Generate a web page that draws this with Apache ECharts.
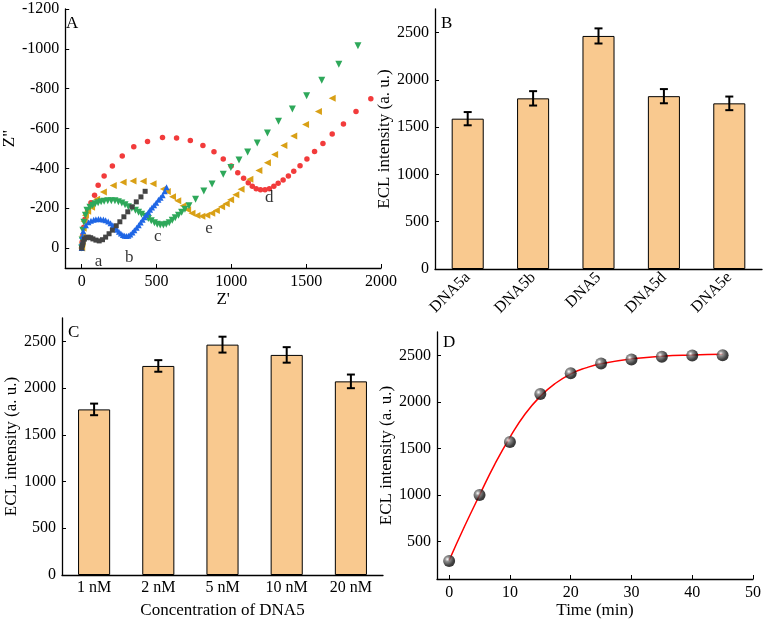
<!DOCTYPE html>
<html>
<head>
<meta charset="utf-8">
<script src="https://cdn.jsdelivr.net/npm/echarts@6/dist/echarts.min.js"></script>
<style>
  html, body { margin: 0; padding: 0; background: #fff; }
  #chart { width: 764px; height: 620px; }
</style>
</head>
<body>
<div id="chart"></div>
<script>
// Panel A - Nyquist plots, points are [Z', Z'']
const nyqA = [[0,0],[5,-15],[10,-30],[18,-45],[30,-52],[44,-55],[60,-52],[75,-46],[95,-40],[117,-36],[139,-42],[160,-55],[183,-72],[205,-90],[231,-112],[255,-132],[282,-157],[308,-182],[337,-207],[365,-232],[396,-257],[424,-285]]
const nyqB = [[0,0],[2,-30],[5,-60],[10,-85],[28,-115],[45,-130],[62,-137],[80,-142],[95,-145],[112,-146],[127,-145],[145,-143],[160,-140],[177,-133],[193,-125],[208,-114],[222,-103],[236,-92],[249,-82],[262,-73],[275,-66],[287,-62],[299,-60],[312,-62],[325,-68],[339,-78],[352,-90],[367,-102],[381,-115],[394,-128],[407,-142],[420,-155],[432,-167],[445,-180],[457,-192],[470,-204],[484,-215],[498,-228],[513,-242],[527,-253],[541,-265],[555,-285],[567,-305]]
const nyqC = [[0,0],[3,-40],[8,-90],[15,-130],[25,-165],[35,-190],[55,-205],[73,-215],[90,-222],[110,-228],[130,-232],[150,-235],[174,-237],[198,-238],[222,-237],[245,-232],[268,-226],[290,-218],[312,-208],[335,-200],[359,-190],[380,-180],[400,-170],[424,-160],[445,-148],[465,-137],[486,-127],[505,-120],[525,-116],[546,-116],[565,-120],[585,-127],[605,-140],[625,-152],[647,-165],[668,-180],[690,-195],[717,-212],[761,-245],[816,-287],[871,-322],[946,-370],[997,-405],[1051,-442],[1109,-482],[1173,-528],[1241,-578],[1315,-637],[1408,-698],[1503,-765],[1604,-842],[1718,-923],[1846,-1015]]
const nyqD = [[0,0],[3,-30],[8,-65],[14,-105],[22,-145],[40,-187],[62,-228],[86,-265],[110,-315],[150,-362],[205,-412],[271,-462],[348,-508],[440,-535],[540,-555],[634,-553],[726,-540],[810,-515],[884,-483],[946,-447],[999,-412],[1043,-378],[1082,-350],[1113,-328],[1140,-310],[1166,-298],[1195,-293],[1225,-293],[1254,-298],[1284,-310],[1313,-325],[1346,-342],[1381,-362],[1417,-385],[1459,-413],[1505,-447],[1556,-485],[1612,-525],[1674,-573],[1749,-623],[1833,-685],[1932,-750]]
const nyqE = [[0,0],[3,-25],[6,-60],[10,-100],[16,-135],[25,-165],[40,-185],[66,-205],[100,-245],[145,-282],[211,-314],[277,-330],[343,-337],[411,-335],[477,-323],[546,-297],[572,-284],[607,-258],[642,-238],[678,-212],[708,-192],[737,-175],[770,-163],[803,-160],[836,-165],[869,-175],[900,-188],[935,-207],[966,-223],[995,-242],[1030,-268],[1065,-295],[1124,-345],[1184,-390],[1241,-428],[1289,-470],[1351,-515],[1417,-563],[1496,-620],[1582,-685],[1674,-752]]
const curveTags = [['a',112,70],['b',317,45],['c',508,-60],['e',851,-100],['d',1254,-255]]
const ticksAx = [0,500,1000,1500,2000]
const ticksAy = [-1200,-1000,-800,-600,-400,-200,0]

// Panel B
const catsB = ['DNA5a','DNA5b','DNA5','DNA5d','DNA5e']
const valsB = [1590,1805,2465,1828,1752]
const errB = [70,76,80,75,72]

// Panel C
const catsC = ['1 nM','2 nM','5 nM','10 nM','20 nM']
const valsC = [1772,2237,2465,2355,2072]
const errC = [62,62,85,83,73]
const ticksBar = [0,500,1000,1500,2000,2500]

// Panel D
const timeD = [0,5,10,15,20,25,30,35,40,45]
const eclD = [293,1001,1570,2085,2307,2411,2455,2485,2497,2500]
const fitT = [0,2.5,5,7.5,10,12.5,15,17.5,20,22.5,25,30,35,40,45]
const fitV = [300,660,1000,1330,1620,1870,2060,2200,2300,2365,2410,2462,2490,2503,2510]
const ticksDx = [0,10,20,30,40,50]
const ticksDy = [500,1000,1500,2000,2500]

const FONT = 'Liberation Serif'
const LBL = 16
const NAME = 17
const chart = echarts.init(document.getElementById('chart'))

function axis (type, grid, labels, extra) {
  return Object.assign({
    type: type,
    gridIndex: grid,
    axisLine: { show: true, onZero: false, lineStyle: { color: '#000', width: 1.3 } },
    axisTick: { show: true, inside: true, length: 4, customValues: labels, lineStyle: { color: '#000' } },
    axisLabel: { customValues: labels, color: '#000', fontFamily: FONT, fontSize: LBL, margin: 6, formatter: v => String(v) },
    splitLine: { show: false },
    nameLocation: 'middle',
    nameTextStyle: { color: '#000', fontFamily: FONT, fontSize: NAME }
  }, extra)
}

function catAxis (grid, cats, extra) {
  return Object.assign({
    type: 'category',
    gridIndex: grid,
    data: cats,
    axisLine: { show: true, lineStyle: { color: '#000', width: 1.3 } },
    axisTick: { show: false },
    axisLabel: { color: '#000', fontFamily: FONT, fontSize: LBL, margin: 5 },
    nameLocation: 'middle',
    nameTextStyle: { color: '#000', fontFamily: FONT, fontSize: NAME }
  }, extra)
}

function errSeries (idx, vals, errs) {
  return {
    type: 'custom',
    xAxisIndex: idx,
    yAxisIndex: idx,
    z: 10,
    encode: { x: 0, y: [1, 2] },
    data: vals.map((v, i) => [i, v - errs[i], v + errs[i]]),
    renderItem: function (params, api) {
      const lo = api.coord([api.value(0), api.value(1)])
      const hi = api.coord([api.value(0), api.value(2)])
      const w = 4
      const st = { stroke: '#000', lineWidth: 2 }
      return {
        type: 'group',
        children: [
          { type: 'line', shape: { x1: hi[0], y1: hi[1], x2: lo[0], y2: lo[1] }, style: st },
          { type: 'line', shape: { x1: hi[0] - w, y1: hi[1], x2: hi[0] + w, y2: hi[1] }, style: st },
          { type: 'line', shape: { x1: lo[0] - w, y1: lo[1], x2: lo[0] + w, y2: lo[1] }, style: st }
        ]
      }
    }
  }
}

function nyq (data, symbol, size, color, rot) {
  return {
    type: 'scatter', xAxisIndex: 0, yAxisIndex: 0,
    symbol: symbol, symbolSize: size, symbolRotate: rot || 0,
    itemStyle: { color: color, opacity: 1 },
    data: data
  }
}

const barStyle = { color: '#F9C98F', borderColor: '#000', borderWidth: 1 }

const option = {
  animation: false,
  backgroundColor: '#fff',
  grid: [
    { left: 61, top: 9, width: 320, height: 259 },
    { left: 435, top: 9, width: 327, height: 260 },
    { left: 62, top: 318, width: 321, height: 261 },
    { left: 437, top: 332, width: 318, height: 248 }
  ],
  xAxis: [
    axis('value', 0, ticksAx, { min: -110, max: 2000, name: "Z'", nameGap: 23 }),
    catAxis(1, catsB, { axisLabel: { color: '#000', fontFamily: FONT, fontSize: LBL, margin: 6, rotate: 45 } }),
    catAxis(2, catsC, { name: 'Concentration of DNA5', nameGap: 27 }),
    axis('value', 3, ticksDx, { min: -2, max: 50, name: 'Time (min)', nameGap: 23 })
  ],
  yAxis: [
    axis('value', 0, ticksAy, { min: -1200, max: 100, inverse: true, name: 'Z"', nameGap: 43 }),
    axis('value', 1, ticksBar, { min: 0, max: 2750, name: 'ECL intensity (a. u.)', nameGap: 41 }),
    axis('value', 2, ticksBar, { min: 0, max: 2750, name: 'ECL intensity (a. u.)', nameGap: 41 }),
    axis('value', 3, ticksDy, { min: 100, max: 2750, name: 'ECL intensity (a. u.)', nameGap: 38 })
  ],
  series: [
    nyq(nyqD, 'circle', 5.5, '#F23B3B'),
    nyq(nyqE, 'triangle', 7, '#D9A016', 90),
    nyq(nyqC, 'triangle', 7, '#2EA85A', 180),
    nyq(nyqB, 'triangle', 6, '#1F66E5'),
    nyq(nyqA, 'rect', 5, '#444444'),
    {
      type: 'scatter', xAxisIndex: 0, yAxisIndex: 0, symbolSize: 0,
      data: curveTags.map(t => ({ name: t[0], value: [t[1], t[2]] })),
      label: { show: true, position: 'inside', formatter: '{b}', color: '#000', fontFamily: FONT, fontSize: 17 }
    },
    { type: 'bar', xAxisIndex: 1, yAxisIndex: 1, data: valsB, barWidth: '49%', itemStyle: barStyle },
    errSeries(1, valsB, errB),
    { type: 'bar', xAxisIndex: 2, yAxisIndex: 2, data: valsC, barWidth: '50%', itemStyle: barStyle },
    errSeries(2, valsC, errC),
    {
      type: 'line', xAxisIndex: 3, yAxisIndex: 3, smooth: true, showSymbol: false,
      lineStyle: { color: '#FF0000', width: 1.5 },
      data: fitT.map((t, i) => [t, fitV[i]])
    },
    {
      type: 'scatter', xAxisIndex: 3, yAxisIndex: 3, symbolSize: 12, z: 5,
      itemStyle: {
        color: {
          type: 'radial', x: 0.35, y: 0.35, r: 0.75,
          colorStops: [
            { offset: 0, color: '#ffffff' },
            { offset: 0.25, color: '#777777' },
            { offset: 0.7, color: '#111111' },
            { offset: 1, color: '#000000' }
          ]
        }
      },
      data: timeD.map((t, i) => [t, eclD[i]])
    }
  ],
  graphic: [
    { type: 'text', left: 66, top: 15, style: { text: 'A', fontFamily: FONT, fontSize: 17, fill: '#000' } },
    { type: 'text', left: 441, top: 15, style: { text: 'B', fontFamily: FONT, fontSize: 17, fill: '#000' } },
    { type: 'text', left: 68, top: 324, style: { text: 'C', fontFamily: FONT, fontSize: 17, fill: '#000' } },
    { type: 'text', left: 443, top: 334, style: { text: 'D', fontFamily: FONT, fontSize: 17, fill: '#000' } }
  ]
}
chart.setOption(option)
</script>
</body>
</html>
